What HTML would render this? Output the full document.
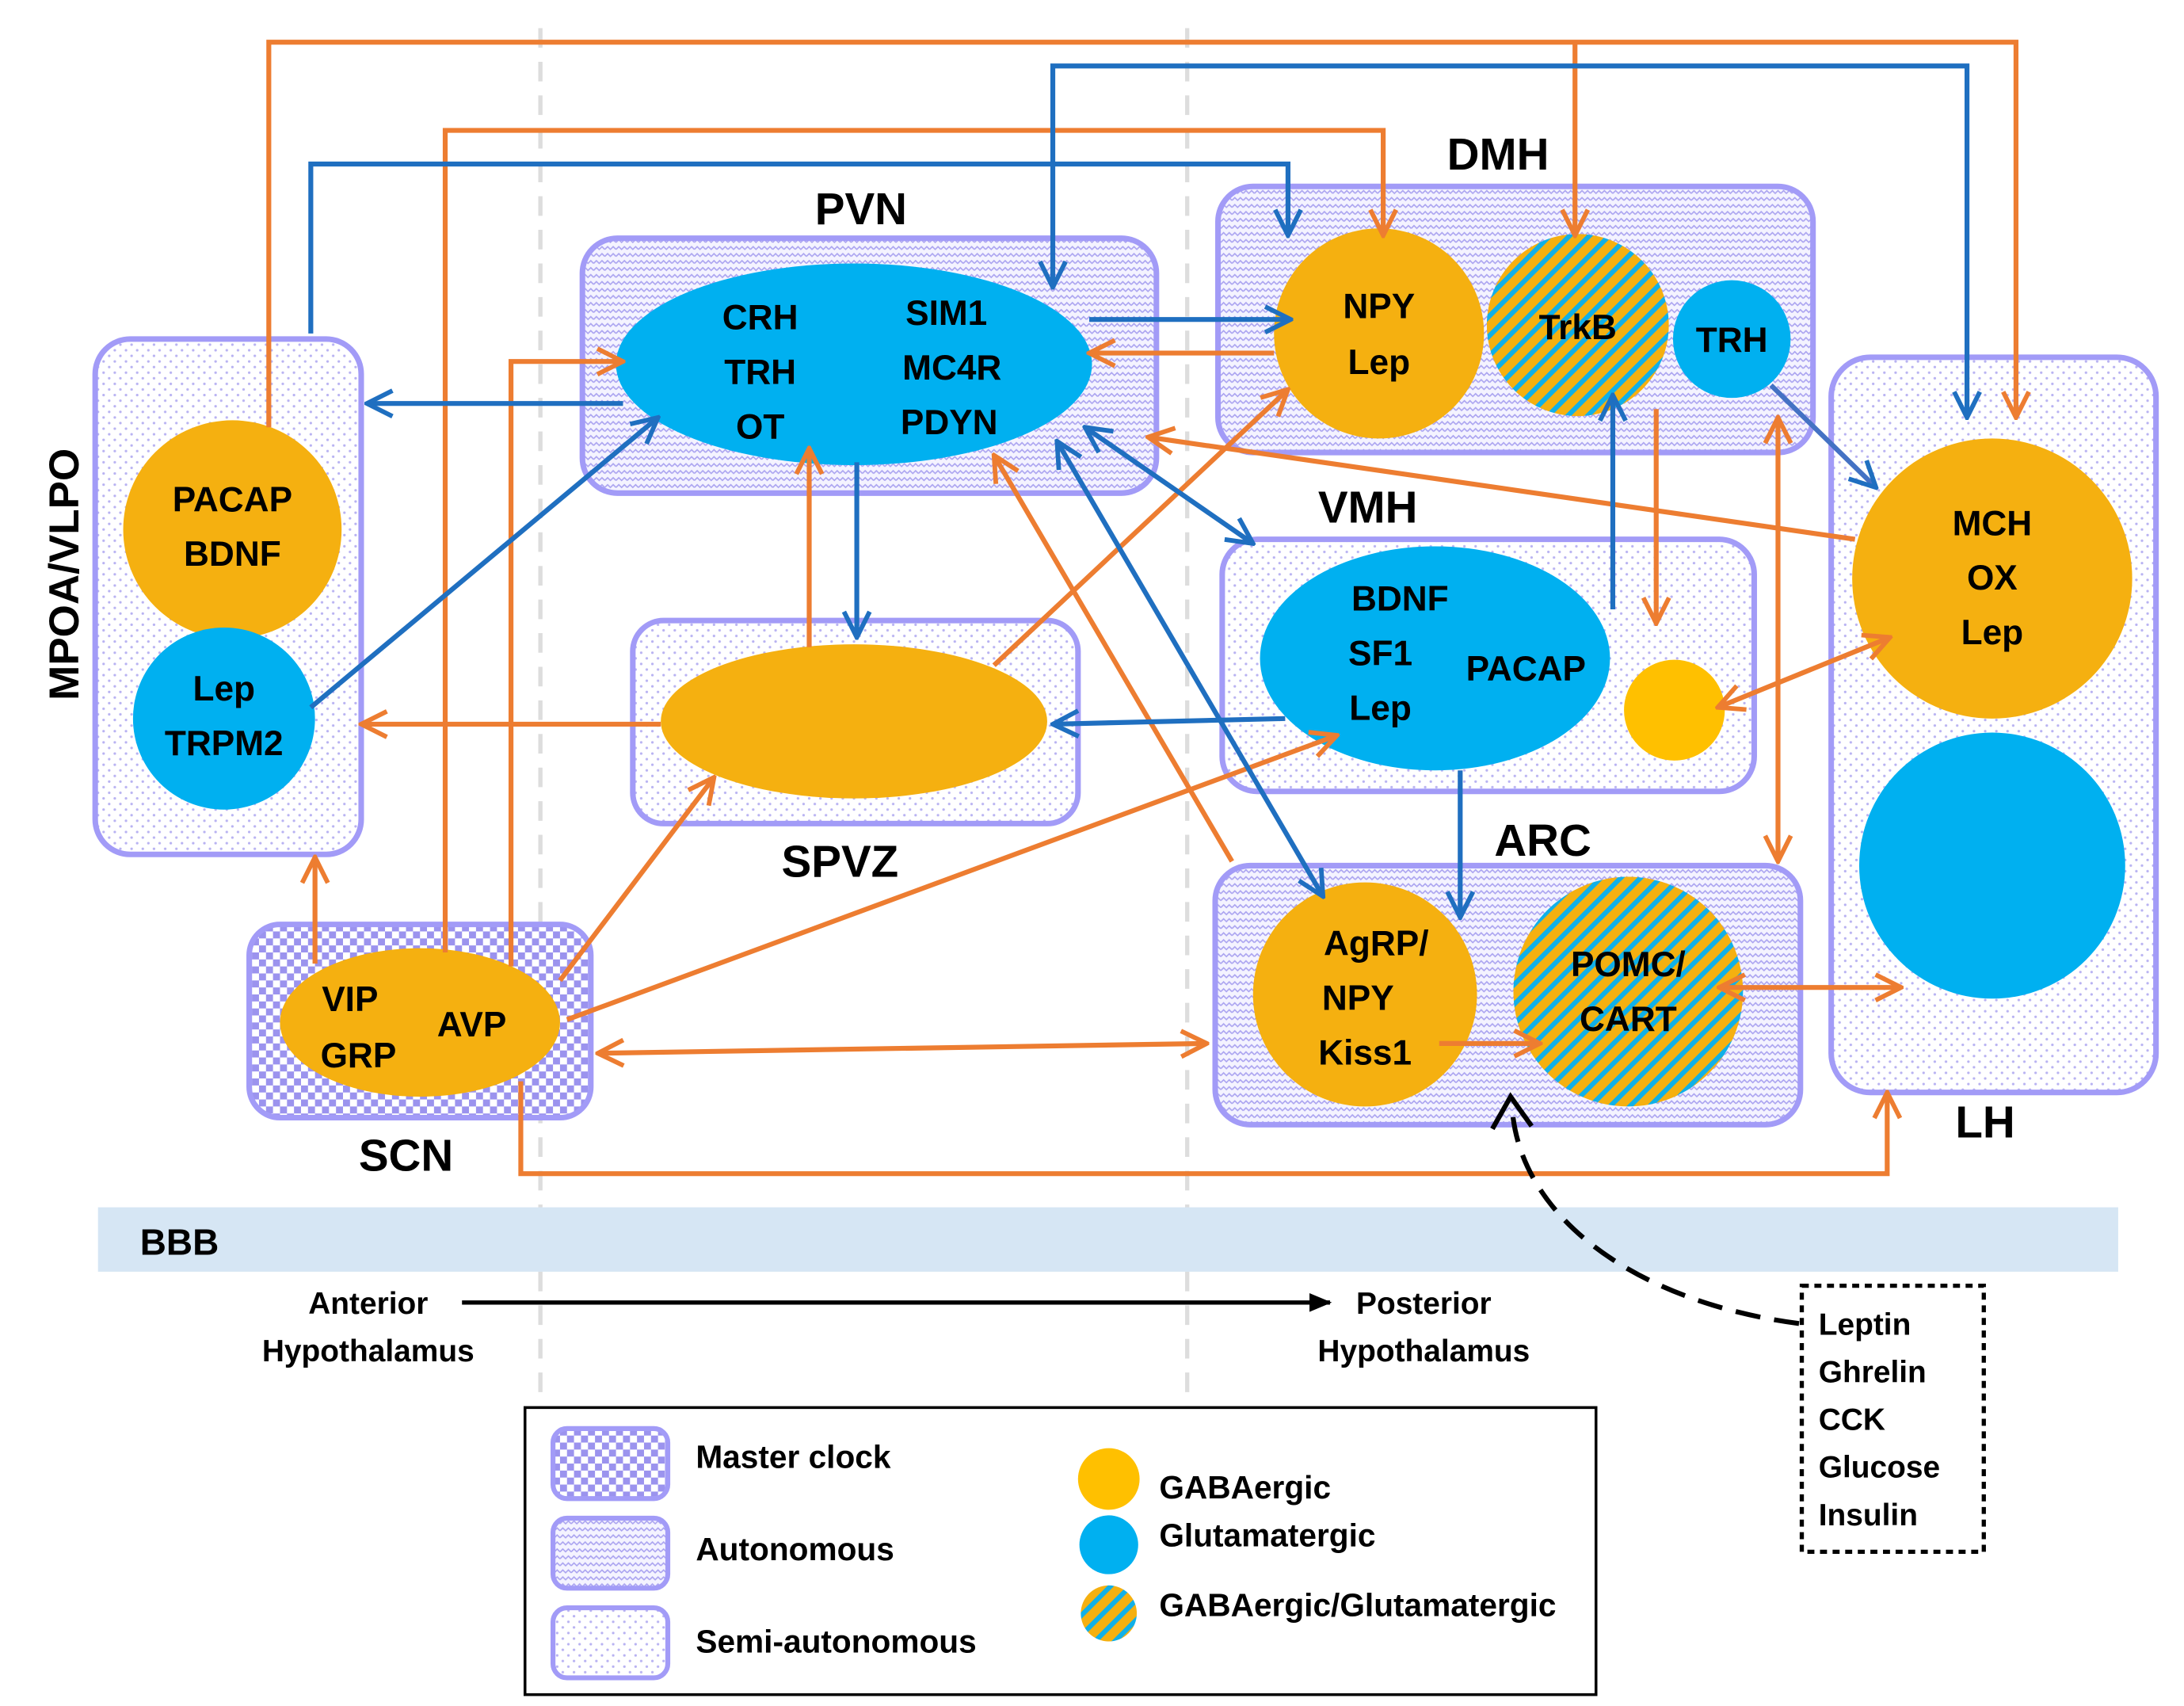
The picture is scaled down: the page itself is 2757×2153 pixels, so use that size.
<!DOCTYPE html>
<html><head><meta charset="utf-8"><style>
html,body{margin:0;padding:0;background:#fff}
svg{display:block}
text{font-family:"Liberation Sans",sans-serif;font-weight:bold;fill:#000}
</style></head><body>
<svg width="2757" height="2153" viewBox="0 0 1560 1218" xmlns="http://www.w3.org/2000/svg">
<defs>
<pattern id="dots" width="8" height="8" patternUnits="userSpaceOnUse">
<rect width="8" height="8" fill="#fff"/><circle cx="2" cy="2" r="0.9" fill="#b8b2f2"/><circle cx="6" cy="6" r="0.9" fill="#b8b2f2"/></pattern>
<pattern id="wave" width="8" height="5" patternUnits="userSpaceOnUse">
<rect width="8" height="5" fill="#f4f3ff"/><path d="M0,3 L2,1 L4,3 L6,1 L8,3" stroke="#a9a2f0" stroke-width="0.9" fill="none"/></pattern>
<pattern id="check" width="10" height="10" patternUnits="userSpaceOnUse">
<rect width="10" height="10" fill="#fff"/><rect width="5" height="5" fill="#9b93ee"/><rect x="5" y="5" width="5" height="5" fill="#9b93ee"/></pattern>
<pattern id="hatch" width="10" height="10" patternUnits="userSpaceOnUse" patternTransform="rotate(45)">
<rect width="10" height="10" fill="#f5b010"/><rect width="3.5" height="10" fill="#10b0e8"/></pattern>
<marker id="ao" viewBox="0 0 12 12" refX="11" refY="6" markerWidth="22" markerHeight="22" markerUnits="userSpaceOnUse" orient="auto-start-reverse">
<path d="M1,1 L11,6 L1,11" fill="none" stroke="#ed7d31" stroke-width="1.8"/></marker>
<marker id="ab" viewBox="0 0 12 12" refX="11" refY="6" markerWidth="22" markerHeight="22" markerUnits="userSpaceOnUse" orient="auto-start-reverse">
<path d="M1,1 L11,6 L1,11" fill="none" stroke="#1f6fc0" stroke-width="1.8"/></marker>
<marker id="ak" viewBox="0 0 12 12" refX="11" refY="6" markerWidth="16" markerHeight="16" markerUnits="userSpaceOnUse" orient="auto">
<path d="M0,1 L12,6 L0,11 z" fill="#000"/></marker>
</defs>

<!-- dashed dividers -->
<line x1="386" y1="20" x2="386" y2="1212" stroke="#ddd" stroke-width="3" stroke-dasharray="14,10"/>
<line x1="848" y1="20" x2="848" y2="1005" stroke="#ddd" stroke-width="3" stroke-dasharray="14,10"/>

<!-- BBB -->
<rect x="70" y="862" width="1443" height="46" fill="#d6e6f4"/>
<text x="100" y="896" font-size="26">BBB</text>

<!-- boxes -->
<g stroke="#a29bf7" stroke-width="4">
<rect x="68" y="242" width="190" height="368" rx="25" fill="url(#dots)"/>
<rect x="178" y="660" width="244" height="138" rx="22" fill="url(#check)"/>
<rect x="416" y="170" width="410" height="182" rx="25" fill="url(#wave)"/>
<rect x="452" y="443" width="318" height="145" rx="22" fill="url(#dots)"/>
<rect x="870" y="133" width="425" height="190" rx="25" fill="url(#wave)"/>
<rect x="873" y="385" width="380" height="180" rx="25" fill="url(#dots)"/>
<rect x="868" y="618" width="418" height="185" rx="25" fill="url(#wave)"/>
<rect x="1308" y="255" width="232" height="525" rx="28" fill="url(#dots)"/>
</g>

<!-- nodes -->
<circle cx="166" cy="378" r="78" fill="#f5b010"/>
<circle cx="160" cy="513" r="65" fill="#00b0f0"/>
<ellipse cx="300" cy="730" rx="100" ry="53" fill="#f5b010"/>
<ellipse cx="610" cy="260" rx="170" ry="72" fill="#00b0f0"/>
<ellipse cx="610" cy="515" rx="138" ry="55" fill="#f5b010"/>
<circle cx="985" cy="238" r="75" fill="#f5b010"/>
<circle cx="1127" cy="232" r="65" fill="url(#hatch)"/>
<circle cx="1237" cy="242" r="42" fill="#00b0f0"/>
<ellipse cx="1025" cy="470" rx="125" ry="80" fill="#00b0f0"/>
<circle cx="1196" cy="507" r="36" fill="#ffc000"/>
<circle cx="975" cy="710" r="80" fill="#f5b010"/>
<circle cx="1163" cy="708" r="82" fill="url(#hatch)"/>
<circle cx="1423" cy="413" r="100" fill="#f5b010"/>
<circle cx="1423" cy="618" r="95" fill="#00b0f0"/>

<!-- orange connectors -->
<g stroke="#ed7d31" stroke-width="3.5" fill="none">
<polyline points="192,305 192,30 1440,30 1440,298" marker-end="url(#ao)"/>
<polyline points="1125,30 1125,168" marker-end="url(#ao)"/>
<polyline points="318,680 318,93 988,93 988,168" marker-end="url(#ao)"/>
<polyline points="365,690 365,258 445,258" marker-end="url(#ao)"/>
<polyline points="225,688 225,612" marker-end="url(#ao)"/>
<polyline points="372,772 372,838 1348,838 1348,780" marker-end="url(#ao)"/>
<line x1="400" y1="700" x2="510" y2="555" marker-end="url(#ao)"/>
<line x1="405" y1="728" x2="955" y2="525" marker-end="url(#ao)"/>
<line x1="427" y1="752" x2="862" y2="745" marker-start="url(#ao)" marker-end="url(#ao)"/>
<line x1="472" y1="517" x2="258" y2="517" marker-end="url(#ao)"/>
<line x1="578" y1="462" x2="578" y2="320" marker-end="url(#ao)"/>
<line x1="710" y1="475" x2="920" y2="278" marker-end="url(#ao)"/>
<line x1="910" y1="252" x2="778" y2="252" marker-end="url(#ao)"/>
<line x1="1325" y1="385" x2="820" y2="312" marker-end="url(#ao)"/>
<line x1="880" y1="615" x2="710" y2="325" marker-end="url(#ao)"/>
<line x1="1183" y1="292" x2="1183" y2="445" marker-end="url(#ao)"/>
<line x1="1270" y1="298" x2="1270" y2="615" marker-start="url(#ao)" marker-end="url(#ao)"/>
<line x1="1227" y1="505" x2="1350" y2="455" marker-start="url(#ao)" marker-end="url(#ao)"/>
<line x1="1228" y1="705" x2="1358" y2="705" marker-start="url(#ao)" marker-end="url(#ao)"/>
<line x1="1028" y1="745" x2="1100" y2="745" marker-end="url(#ao)"/>
</g>

<!-- blue connectors -->
<g stroke="#1f6fc0" stroke-width="3.5" fill="none">
<polyline points="222,238 222,117 920,117 920,168" marker-end="url(#ab)"/>
<polyline points="752,205 752,47 1405,47 1405,298" marker-start="url(#ab)" marker-end="url(#ab)"/>
<line x1="445" y1="288" x2="262" y2="288" marker-end="url(#ab)"/>
<line x1="222" y1="505" x2="470" y2="298" marker-end="url(#ab)"/>
<line x1="778" y1="228" x2="922" y2="228" marker-end="url(#ab)"/>
<line x1="612" y1="330" x2="612" y2="455" marker-end="url(#ab)"/>
<line x1="775" y1="305" x2="895" y2="388" marker-start="url(#ab)" marker-end="url(#ab)"/>
<line x1="755" y1="315" x2="945" y2="640" marker-start="url(#ab)" marker-end="url(#ab)"/>
<line x1="918" y1="513" x2="752" y2="517" marker-end="url(#ab)"/>
<line x1="1152" y1="435" x2="1152" y2="282" marker-end="url(#ab)"/>
<line x1="1043" y1="550" x2="1043" y2="655" marker-end="url(#ab)"/>
<line x1="1265" y1="275" x2="1340" y2="348" stroke="#4472c4" marker-end="url(#ab)"/>
</g>

<!-- node texts -->
<g font-size="25" text-anchor="middle">
<text x="166" y="365">PACAP</text><text x="166" y="404">BDNF</text>
<text x="160" y="500">Lep</text><text x="160" y="539">TRPM2</text>
<text x="250" y="722">VIP</text><text x="256" y="762">GRP</text><text x="337" y="740">AVP</text>
<text x="543" y="235">CRH</text><text x="543" y="274">TRH</text><text x="543" y="313">OT</text>
<text x="676" y="232">SIM1</text><text x="680" y="271">MC4R</text><text x="678" y="310">PDYN</text>
<text x="985" y="227">NPY</text><text x="985" y="267">Lep</text>
<text x="1127" y="242">TrkB</text><text x="1237" y="251">TRH</text>
<text x="1000" y="436">BDNF</text><text x="986" y="475">SF1</text><text x="986" y="514">Lep</text>
<text x="1090" y="486">PACAP</text>
<text x="983" y="682">AgRP/</text><text x="970" y="721">NPY</text><text x="975" y="760">Kiss1</text>
<text x="1163" y="697">POMC/</text><text x="1163" y="736">CART</text>
<text x="1423" y="382">MCH</text><text x="1423" y="421">OX</text><text x="1423" y="460">Lep</text>
</g>
<!-- region labels -->
<g font-size="32" text-anchor="middle">
<text x="615" y="160">PVN</text>
<text x="1070" y="121">DMH</text>
<text x="977" y="373">VMH</text>
<text x="600" y="626">SPVZ</text>
<text x="1102" y="611">ARC</text>
<text x="290" y="836">SCN</text>
<text x="1418" y="812">LH</text>
<text transform="translate(56,410) rotate(-90)" font-size="30">MPOA/VLPO</text>
</g>

<!-- anterior/posterior -->
<g font-size="22" text-anchor="middle">
<text x="263" y="938">Anterior</text><text x="263" y="972">Hypothalamus</text>
<text x="1017" y="938">Posterior</text><text x="1017" y="972">Hypothalamus</text>
</g>
<line x1="330" y1="930" x2="950" y2="930" stroke="#000" stroke-width="3" marker-end="url(#ak)"/>

<!-- signals box -->
<rect x="1287" y="918" width="130" height="190" fill="#fff" stroke="#000" stroke-width="3" stroke-dasharray="5,4"/>
<g font-size="22">
<text x="1299" y="953">Leptin</text><text x="1299" y="987">Ghrelin</text><text x="1299" y="1021">CCK</text><text x="1299" y="1055">Glucose</text><text x="1299" y="1089">Insulin</text>
</g>
<path d="M1285,945 C1170,930 1085,870 1080,790" stroke="#000" stroke-width="3.5" fill="none" stroke-dasharray="18,10"/>
<path d="M1066,806 L1079,783 L1094,804" stroke="#000" stroke-width="3.5" fill="none"/>

<!-- legend -->
<rect x="375" y="1005" width="765" height="205" fill="#fff" stroke="#000" stroke-width="2"/>
<g stroke="#a29bf7" stroke-width="3.5">
<rect x="395" y="1020" width="82" height="50" rx="10" fill="url(#check)"/>
<rect x="395" y="1084" width="82" height="50" rx="10" fill="url(#wave)"/>
<rect x="395" y="1148" width="82" height="50" rx="10" fill="url(#dots)"/>
</g>
<g font-size="23">
<text x="497" y="1048">Master clock</text>
<text x="497" y="1114">Autonomous</text>
<text x="497" y="1180">Semi-autonomous</text>
<text x="828" y="1070">GABAergic</text>
<text x="828" y="1104">Glutamatergic</text>
<text x="828" y="1154">GABAergic/Glutamatergic</text>
</g>
<circle cx="792" cy="1056" r="22" fill="#ffc000"/>
<circle cx="792" cy="1103" r="21" fill="#00b0f0"/>
<circle cx="792" cy="1152" r="20" fill="url(#hatch)"/>
</svg>
</body></html>
